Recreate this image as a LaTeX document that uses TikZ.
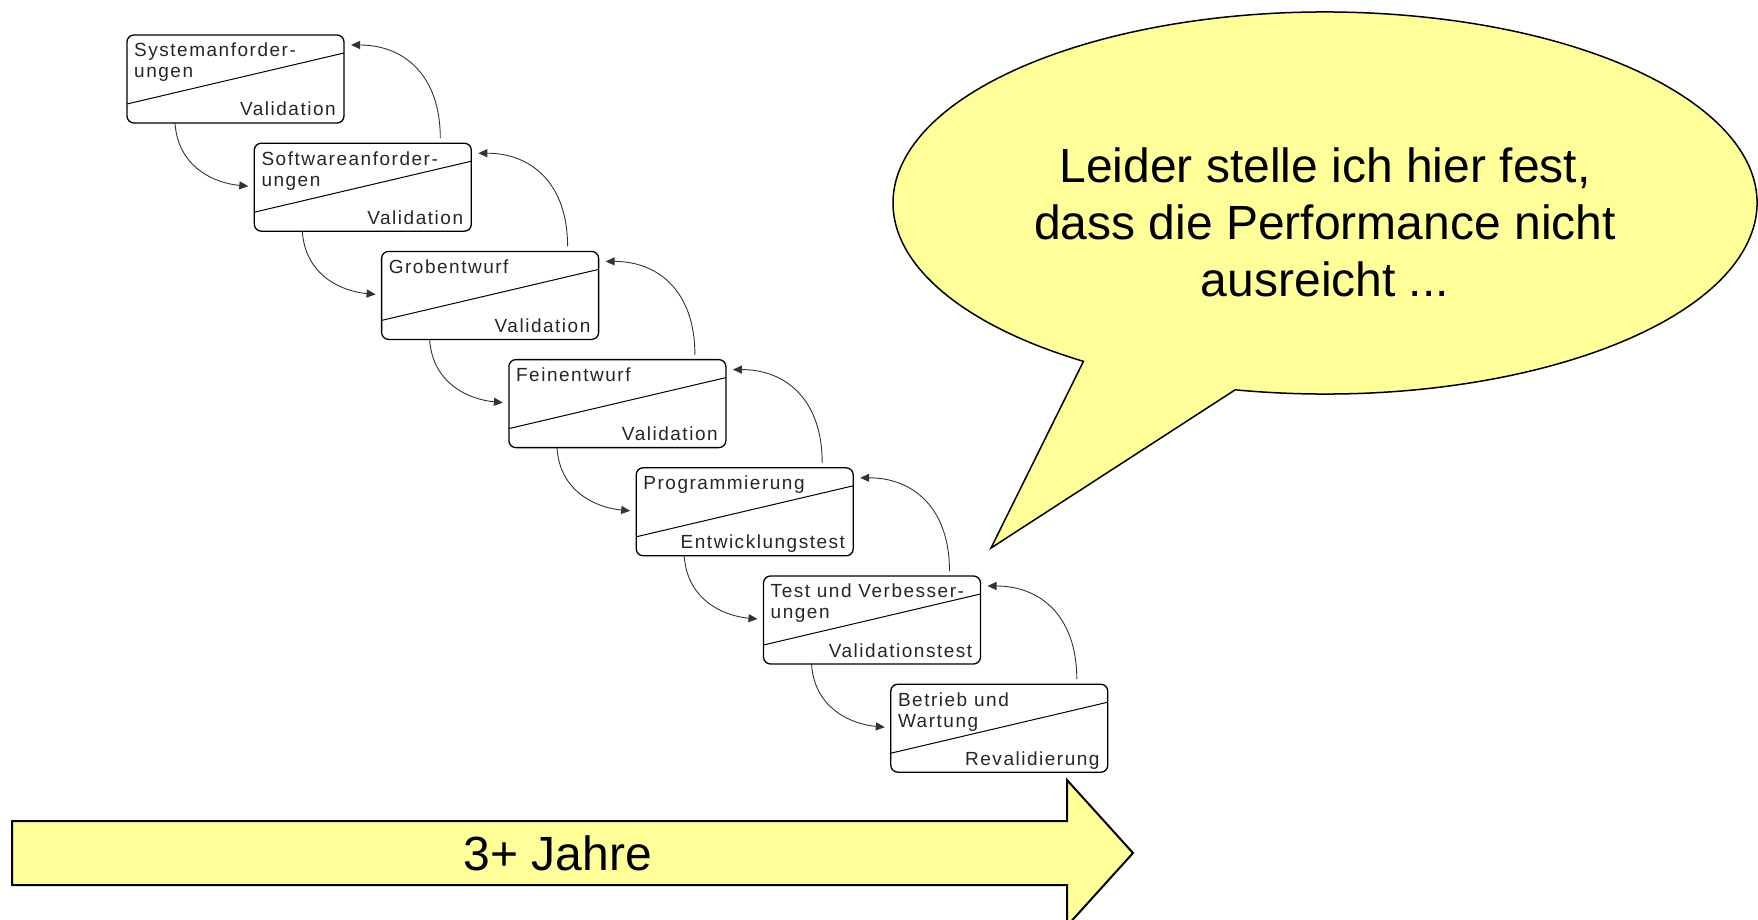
\documentclass[tikz,border=0pt]{standalone}
\usepackage{fontspec}
\setmainfont{Liberation Sans}
\newfontfamily\boxfont[LetterSpace=8]{Liberation Sans}
\usetikzlibrary{arrows.meta,calc}
\definecolor{noteyellow}{HTML}{FFFF99}

% one phase of the waterfall: name, left, top, title, check
\newcommand\stagebox[5]{%
  \node[stagebox] (#1) at (#2,#3) {};
  \draw[divider] ([yshift=-69pt]#1.north west) -- ([yshift=-18pt]#1.north east);
  \node[titletext] (#1-title) at ([xshift=7pt,yshift=-8pt]#1.north west) {#4};
  \node[checktext] (#1-check) at ([xshift=-8pt,yshift=-81pt]#1.north east) {#5};
}

\begin{document}
\begin{tikzpicture}[x=1pt,y=-1pt,
  stagebox/.style={draw=black, line width=1.3pt, rounded corners=7pt,
    minimum width=217pt, minimum height=88pt, inner sep=0pt, outer sep=0pt,
    anchor=north west},
  divider/.style={draw=black, line width=1pt},
  titletext/.style={font=\boxfont\fontsize{19}{21}\selectfont, align=left,
    anchor=north west, inner sep=0pt, text=black!85},
  checktext/.style={font=\boxfont\fontsize{19}{21}\selectfont,
    anchor=base east, inner sep=0pt, text=black!85},
  flow/.style={draw=black!80, line width=0.9pt,
    -{Triangle[length=9pt,width=8pt]}},
  yellowshape/.style={fill=noteyellow, draw=black, line join=miter},
  bigtext/.style={font=\fontsize{48}{57}\selectfont, align=center, inner sep=0pt},
]
\clip (0,0) rectangle (1758,920);
\fill[white] (0,0) rectangle (1758,920);

% phases
\stagebox{s1}{127}{35}{Systemanforder-\\ungen}{Validation}
\stagebox{s2}{254.3}{143.2}{Softwareanforder-\\ungen}{Validation}
\stagebox{s3}{381.6}{251.4}{Grobentwurf}{Validation}
\stagebox{s4}{508.9}{359.6}{Feinentwurf}{Validation}
\stagebox{s5}{636.2}{467.8}{Programmierung}{Entwicklungstest}
\stagebox{s6}{763.5}{576}{Test und Verbesser-\\ungen}{Validationstest}
\stagebox{s7}{890.8}{684.2}{Betrieb und\\Wartung}{Revalidierung}

% forward steps
\foreach \a/\b in {s1/s2,s2/s3,s3/s4,s4/s5,s5/s6,s6/s7}{
  \draw[flow] ([xshift=48pt]\a.south west) .. controls +(3,45) and +(-33,-3)
    .. ([xshift=-6pt,yshift=1pt]\b.west);
}
% feedback steps
\foreach \a/\b in {s2/s1,s3/s2,s4/s3,s5/s4,s6/s5,s7/s6}{
  \draw[flow] ([xshift=-31pt,yshift=5pt]\a.north east) .. controls +(0,-63) and +(53,0)
    .. ([xshift=7pt,yshift=-10pt]\b.north east);
}

% speech bubble
\draw[yellowshape, line width=1.5pt] (1325,203) ++(258:432pt and 191pt)
  arc[start angle=258, end angle=596, x radius=432pt, y radius=191pt]
  -- (991,548) -- cycle;
\node[bigtext] (remark) at (1325,222)
  {Leider stelle ich hier fest,\\dass die Performance nicht\\ausreicht ...};

% time arrow
\draw[yellowshape, line width=2pt] (12,821) -- (1067,821) -- (1067,780)
  -- (1133,853) -- (1067,926) -- (1067,885) -- (12,885) -- cycle;
\node[bigtext] (duration) at (558,853) {3+ Jahre};
\end{tikzpicture}
\end{document}
